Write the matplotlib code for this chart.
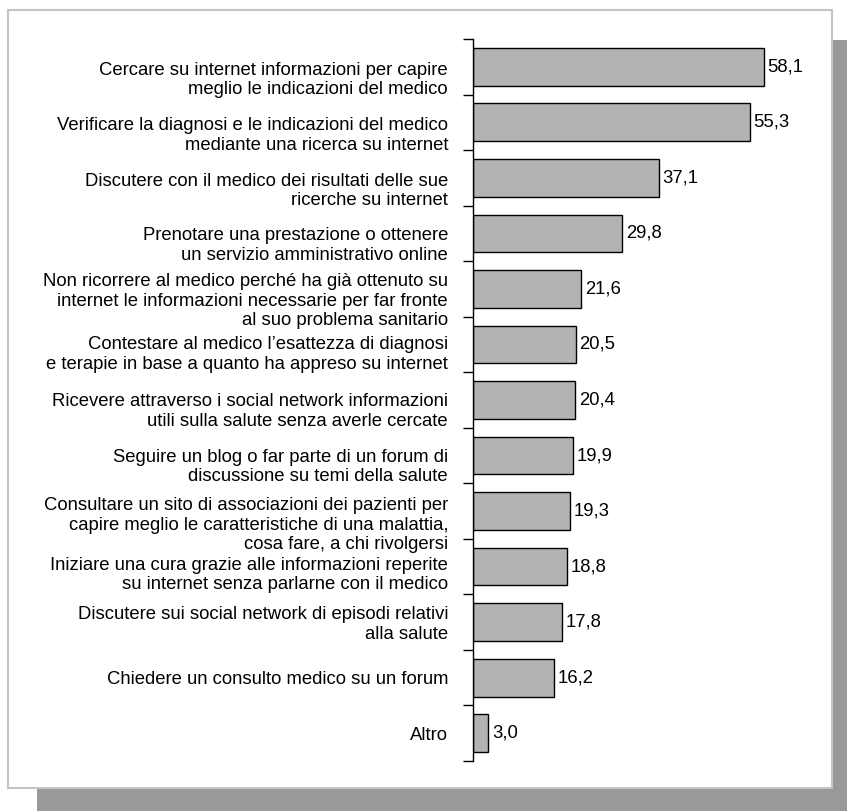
import matplotlib.pyplot as plt
from matplotlib.patches import Rectangle
from matplotlib.transforms import ScaledTranslation

plt.rcParams['font.family'] = ['Liberation Sans', 'DejaVu Sans']

# Categories (top to bottom) and values
labels = [
    "Cercare su internet informazioni per capire\nmeglio le indicazioni del medico",
    "Verificare la diagnosi e le indicazioni del medico\nmediante una ricerca su internet",
    "Discutere con il medico dei risultati delle sue\nricerche su internet",
    "Prenotare una prestazione o ottenere\nun servizio amministrativo online",
    "Non ricorrere al medico perché ha già ottenuto su\ninternet le informazioni necessarie per far fronte\nal suo problema sanitario",
    "Contestare al medico l’esattezza di diagnosi\ne terapie in base a quanto ha appreso su internet",
    "Ricevere attraverso i social network informazioni\nutili sulla salute senza averle cercate",
    "Seguire un blog o far parte di un forum di\ndiscussione su temi della salute",
    "Consultare un sito di associazioni dei pazienti per\ncapire meglio le caratteristiche di una malattia,\ncosa fare, a chi rivolgersi",
    "Iniziare una cura grazie alle informazioni reperite\nsu internet senza parlarne con il medico",
    "Discutere sui social network di episodi relativi\nalla salute",
    "Chiedere un consulto medico su un forum",
    "Altro",
]
values = [58.1, 55.3, 37.1, 29.8, 21.6, 20.5, 20.4, 19.9, 19.3, 18.8, 17.8, 16.2, 3.0]

# downward nudge of each label (pixels), as in the original layout
label_shift = [10, 10, 10, 9, 9, 7, 8, 8, 11, 5, -1, 0, 0]

W, H = 847, 811
fig = plt.figure(figsize=(W / 100, H / 100), dpi=100)

# shadow and white panel
fig.patches.append(Rectangle((37 / W, 0), (W - 37) / W, (H - 40) / H,
                             transform=fig.transFigure, facecolor='#999999',
                             edgecolor='none', zorder=-2))
fig.patches.append(Rectangle((8 / W, (H - 788) / H), (832 - 8) / W, (788 - 10) / H,
                             transform=fig.transFigure, facecolor='white',
                             edgecolor='#c4c4c4', linewidth=1.5, zorder=-1))

ax = fig.add_axes([473 / W, (H - 761) / H, 350 / W, 722 / H])
ax.patch.set_visible(False)
ax.set_zorder(2)

pos = list(range(len(values)))
ax.barh(pos, values, height=0.68, color='#b3b3b3', edgecolor='black', linewidth=1)

for p, v in zip(pos, values):
    ax.text(v + 0.8, p, f"{v:.1f}".replace('.', ','), va='center', ha='left', fontsize=13.3)

ax.set_xlim(0, 70)
ax.set_ylim(len(values) - 0.5, -0.5)

ax.set_yticks(pos)
ax.set_yticklabels(labels, fontsize=13.3, linespacing=1.2)
ax.set_yticks([p - 0.5 for p in pos] + [len(values) - 0.5], minor=True)
ax.tick_params(axis='y', which='major', length=0, pad=18)
ax.tick_params(axis='y', which='minor', length=7, width=1)
ax.set_xticks([])

for lbl, dy in zip(ax.get_yticklabels(), label_shift):
    lbl.set_transform(lbl.get_transform() + ScaledTranslation(0, -dy / 100, fig.dpi_scale_trans))

for s in ['top', 'right', 'bottom']:
    ax.spines[s].set_visible(False)
ax.spines['left'].set_linewidth(1)

fig.savefig('out.png', dpi=100)
